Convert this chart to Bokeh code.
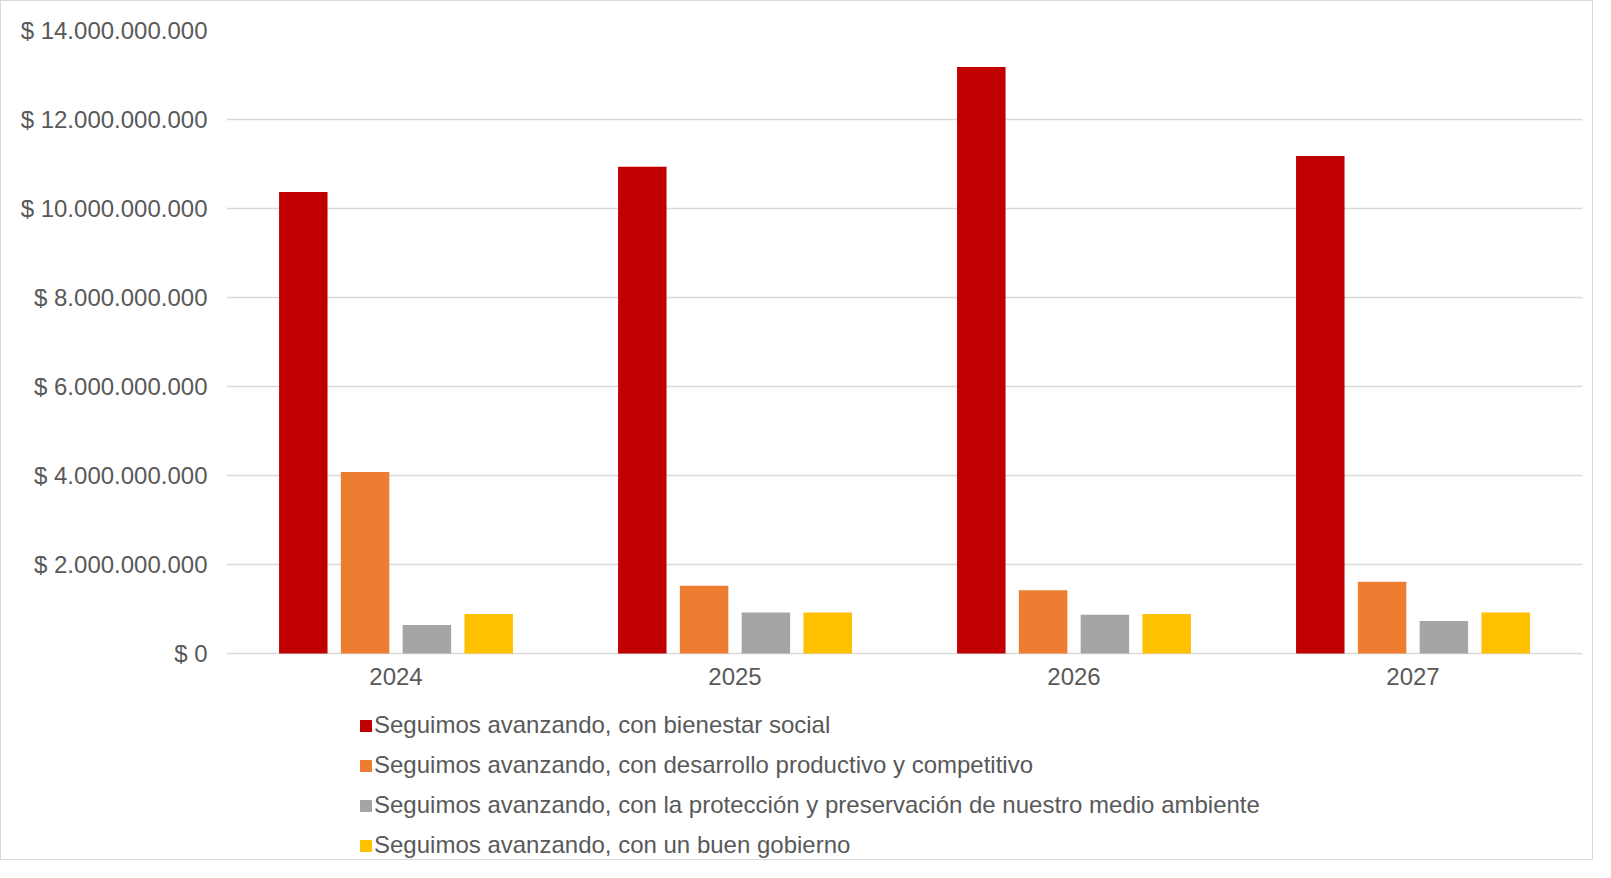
from bokeh.plotting import figure
from bokeh.models import FactorRange, Range1d, FixedTicker, Legend, LegendItem, ColumnDataSource
from bokeh.transform import dodge
from bokeh.core.properties import value
from bokeh.embed import file_html
from bokeh.resources import INLINE

years = ["2024", "2025", "2026", "2027"]
series_names = [
    "Seguimos avanzando, con bienestar social",
    "Seguimos avanzando, con desarrollo productivo y competitivo",
    "Seguimos avanzando, con la protección y preservación de nuestro medio ambiente",
    "Seguimos avanzando, con un buen gobierno",
]
bienestar = [10.37e9, 10.94e9, 13.18e9, 11.18e9]
desarrollo = [4.08e9, 1.52e9, 1.42e9, 1.61e9]
ambiente = [0.64e9, 0.92e9, 0.87e9, 0.73e9]
gobierno = [0.89e9, 0.92e9, 0.89e9, 0.92e9]
colors = ["#C00000", "#ED7D31", "#A5A5A5", "#FFC000"]
y_ticks = [0, 2e9, 4e9, 6e9, 8e9, 10e9, 12e9, 14e9]
y_tick_labels = ["$ 0", "$ 2.000.000.000", "$ 4.000.000.000", "$ 6.000.000.000",
                 "$ 8.000.000.000", "$ 10.000.000.000", "$ 12.000.000.000", "$ 14.000.000.000"]

FONT = "Liberation Sans"
TXT = "#595959"
GRID = "#d9d9d9"

# layout (pixels)
W, H = 1593, 860
TOP, LEFT, RIGHT = 29, 225, 12
PLOT_PX = 623          # pixels from 0 to 14e9
BELOW_PX = (H - TOP) - PLOT_PX
y_max = y_ticks[-1]
y_min = -BELOW_PX / PLOT_PX * y_max

source = ColumnDataSource(dict(year=years, s0=bienestar, s1=desarrollo, s2=ambiente, s3=gobierno))

p = figure(
    width=W, height=H,
    x_range=FactorRange(*years, range_padding=0),
    y_range=Range1d(y_min, y_max),
    x_axis_location=None,
    output_backend="svg", toolbar_location=None,
    min_border_left=LEFT, min_border_right=RIGHT, min_border_top=TOP, min_border_bottom=0,
)
p.styles = {"border": "1px solid #d9d9d9"}
p.outline_line_color = None
p.background_fill_color = "white"
p.border_fill_color = "white"

step = 0.1823
bw = 0.143
offsets = [-1.5 * step, -0.5 * step, 0.5 * step, 1.5 * step]
renderers = []
for i, key in enumerate(["s0", "s1", "s2", "s3"]):
    r = p.vbar(x=dodge("year", offsets[i], range=p.x_range), top=key, bottom=0, width=bw,
               source=source, fill_color=colors[i], line_color=None)
    renderers.append(r)

# category labels under the zero line
p.text(x=years, y=[0] * len(years), text=years, y_offset=23,
       text_align="center", text_baseline="middle",
       text_font=value(FONT), text_font_size="24px", text_color=TXT)

p.yaxis.ticker = FixedTicker(ticks=y_ticks)
p.yaxis.major_label_overrides = {t: l for t, l in zip(y_ticks, y_tick_labels)}
p.yaxis.axis_line_color = None
p.yaxis.major_tick_line_color = None
p.yaxis.minor_tick_line_color = None
p.yaxis.major_tick_out = 0
p.yaxis.major_label_standoff = 19
p.yaxis.major_label_text_font = FONT
p.yaxis.major_label_text_font_size = "24px"
p.yaxis.major_label_text_color = TXT

p.xgrid.grid_line_color = None
p.ygrid.grid_line_color = GRID
p.ygrid.grid_line_width = 1.5

legend = Legend(
    items=[LegendItem(label=n, renderers=[r]) for n, r in zip(series_names, renderers)],
    location=(132, -4),
    orientation="vertical",
    glyph_width=15, glyph_height=15,
    label_standoff=1, label_height=40, spacing=0,
    padding=0, margin=0,
    label_text_font=FONT, label_text_font_size="24px", label_text_color=TXT,
    border_line_color=None, background_fill_alpha=0,
)
p.add_layout(legend, "center")

open("out.html", "w").write(file_html(p, INLINE))
